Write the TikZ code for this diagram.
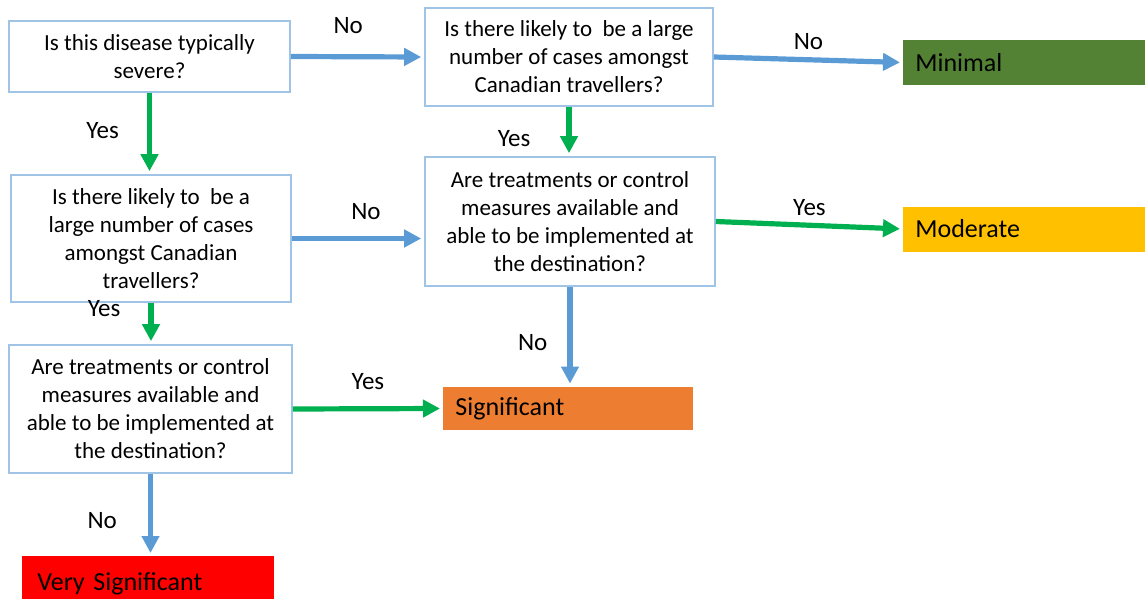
\documentclass[tikz,border=0pt]{standalone}
\usepackage{fontspec}
\setmainfont{Carlito}
\usetikzlibrary{positioning,arrows.meta}

\definecolor{nolink}{RGB}{91,155,213}
\definecolor{yeslink}{RGB}{0,176,80}
\definecolor{qborder}{RGB}{160,196,230}
\definecolor{minimal}{RGB}{84,130,53}
\definecolor{moderate}{RGB}{255,192,0}
\definecolor{significant}{RGB}{237,125,49}
\definecolor{verysig}{RGB}{255,0,0}

\begin{document}
\begin{tikzpicture}[x=0.5pt,y=-0.5pt,>={Triangle[length=8.5pt,width=8.5pt]},shorten >=1.5pt]
        \tikzstyle{question}=[draw=qborder,line width=0.8pt,align=center,inner sep=0pt,
                font=\fontsize{11.5}{14}\selectfont]
        \tikzstyle{result}=[draw=none,inner ysep=0pt,inner xsep=6pt,align=left,
                text width=113pt,minimum height=22.5pt,font=\fontsize{13}{15}\selectfont]
        \tikzstyle{nolink}=[->,draw=nolink,line width=2.6pt]
        \tikzstyle{yeslink}=[->,draw=yeslink,line width=2.6pt]
        \tikzstyle{lbl}=[inner sep=0pt,font=\fontsize{12.5}{15}\selectfont]

        \useasboundingbox (0,0) rectangle (1145,599);

        % questions
        \node[question,minimum width=140.5pt,minimum height=35.5pt] (Q1) at (149.5,56.5)
                {Is this disease typically\\severe?};
        \node[question,minimum width=144pt,minimum height=49pt] (Q2) at (569,57)
                {Is there likely to~ be a large\\number of cases amongst\\Canadian travellers?};
        \node[question,minimum width=140pt,minimum height=63.5pt] (Q3) at (151,238.5)
                {Is there likely to~ be a\\large number of cases\\amongst Canadian\\travellers?};
        \node[question,minimum width=145pt,minimum height=64.5pt] (Q4) at (570,221.5)
                {Are treatments or control\\measures available and\\able to be implemented at\\the destination?};
        \node[question,minimum width=141.5pt,minimum height=64pt] (Q5) at (150.5,409)
                {Are treatments or control\\measures available and\\able to be implemented at\\the destination?};

        % outcomes
        \node[result,fill=minimal,anchor=west,text width=122pt] (Min) at (903,62.5) {Minimal};
        \node[result,fill=moderate,anchor=west,text width=122pt] (Mod) at (903,229) {Moderate};
        \node[result,fill=significant,anchor=west,minimum height=21.5pt] (Sig) at (443,408.5) {Significant};
        \node[result,fill=verysig,anchor=north west,inner xsep=7.5pt,text width=111pt,
                minimum height=27pt] (VSig) at (22,556) {Very Significant};

        \draw (Q1.east) edge[nolink] node[lbl,pos=.43,above=10.25pt] {No} (Q2.west);
        \draw (Q2.east) edge[nolink] node[lbl,pos=.5,above=3.5pt] {No} (Min.west);
        \draw (Q1.south) edge[yeslink] node[lbl,pos=.47,left=14pt] {Yes} (Q1.south |- Q3.north);
        \draw (Q2.south) edge[yeslink] node[lbl,pos=.65,left=18pt] {Yes} (Q2.south |- Q4.north);
        \draw (Q3.east) edge[nolink] node[lbl,pos=.56,above=8.25pt] {No} (Q3.east -| Q4.west);
        \draw (Q4.east) edge[yeslink] node[lbl,pos=.5,above=3.5pt] {Yes} (Mod.west);
        \draw (Q3.south) edge[yeslink] node[lbl,pos=.14,left=14pt] {Yes} (Q3.south |- Q5.north);
        \draw (Q4.south) edge[nolink] node[lbl,pos=.56,left=10pt] {No} (Q4.south |- Sig.north);
        \draw (Q5.east) edge[yeslink] node[lbl,pos=.5,above=8pt] {Yes} (Sig.west);
        \draw (Q5.south) edge[nolink] node[lbl,pos=.57,left=15.5pt] {No} (Q5.south |- VSig.north);

\end{tikzpicture}
\end{document}
